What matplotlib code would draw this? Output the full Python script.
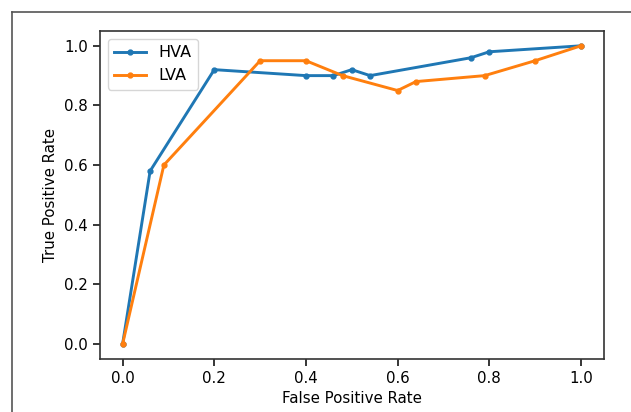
import matplotlib
matplotlib.use("Agg")
import matplotlib.pyplot as plt
from matplotlib.lines import Line2D

# ROC points
hva_fpr = [0.0, 0.06, 0.2, 0.4, 0.46, 0.5, 0.54, 0.76, 0.8, 1.0]
hva_tpr = [0.0, 0.58, 0.92, 0.9, 0.9, 0.92, 0.9, 0.96, 0.98, 1.0]
lva_fpr = [0.0, 0.09, 0.3, 0.4, 0.48, 0.6, 0.64, 0.79, 0.9, 1.0]
lva_tpr = [0.0, 0.6, 0.95, 0.95, 0.9, 0.85, 0.88, 0.9, 0.95, 1.0]

fs = 10.8

fig = plt.figure(figsize=(6.31, 4.12), dpi=100)
ax = fig.add_axes([0.158, 0.129, 0.799, 0.796])

ax.plot(hva_fpr, hva_tpr, marker=".", color="#1f77b4", lw=2.1, ms=7, label="HVA")
ax.plot(lva_fpr, lva_tpr, marker=".", color="#ff7f0e", lw=2.1, ms=7, label="LVA")

ax.set_xlabel("False Positive Rate", fontsize=fs)
ax.set_ylabel("True Positive Rate", fontsize=fs)
ax.tick_params(labelsize=fs, length=5, width=1.1)
for s in ax.spines.values():
    s.set_linewidth(1.2)
    s.set_color("#333333")
ax.legend(loc="upper left", fontsize=11.5, handlelength=2.0)

# screenshot frame lines (top and left)
fig.add_artist(Line2D([12 / 631, 1.0], [1 - 12 / 412, 1 - 12 / 412], color="#555555", lw=1.2))
fig.add_artist(Line2D([12 / 631, 12 / 631], [0.0, 1 - 12 / 412], color="#555555", lw=1.2))

fig.savefig("out.png", dpi=100)
